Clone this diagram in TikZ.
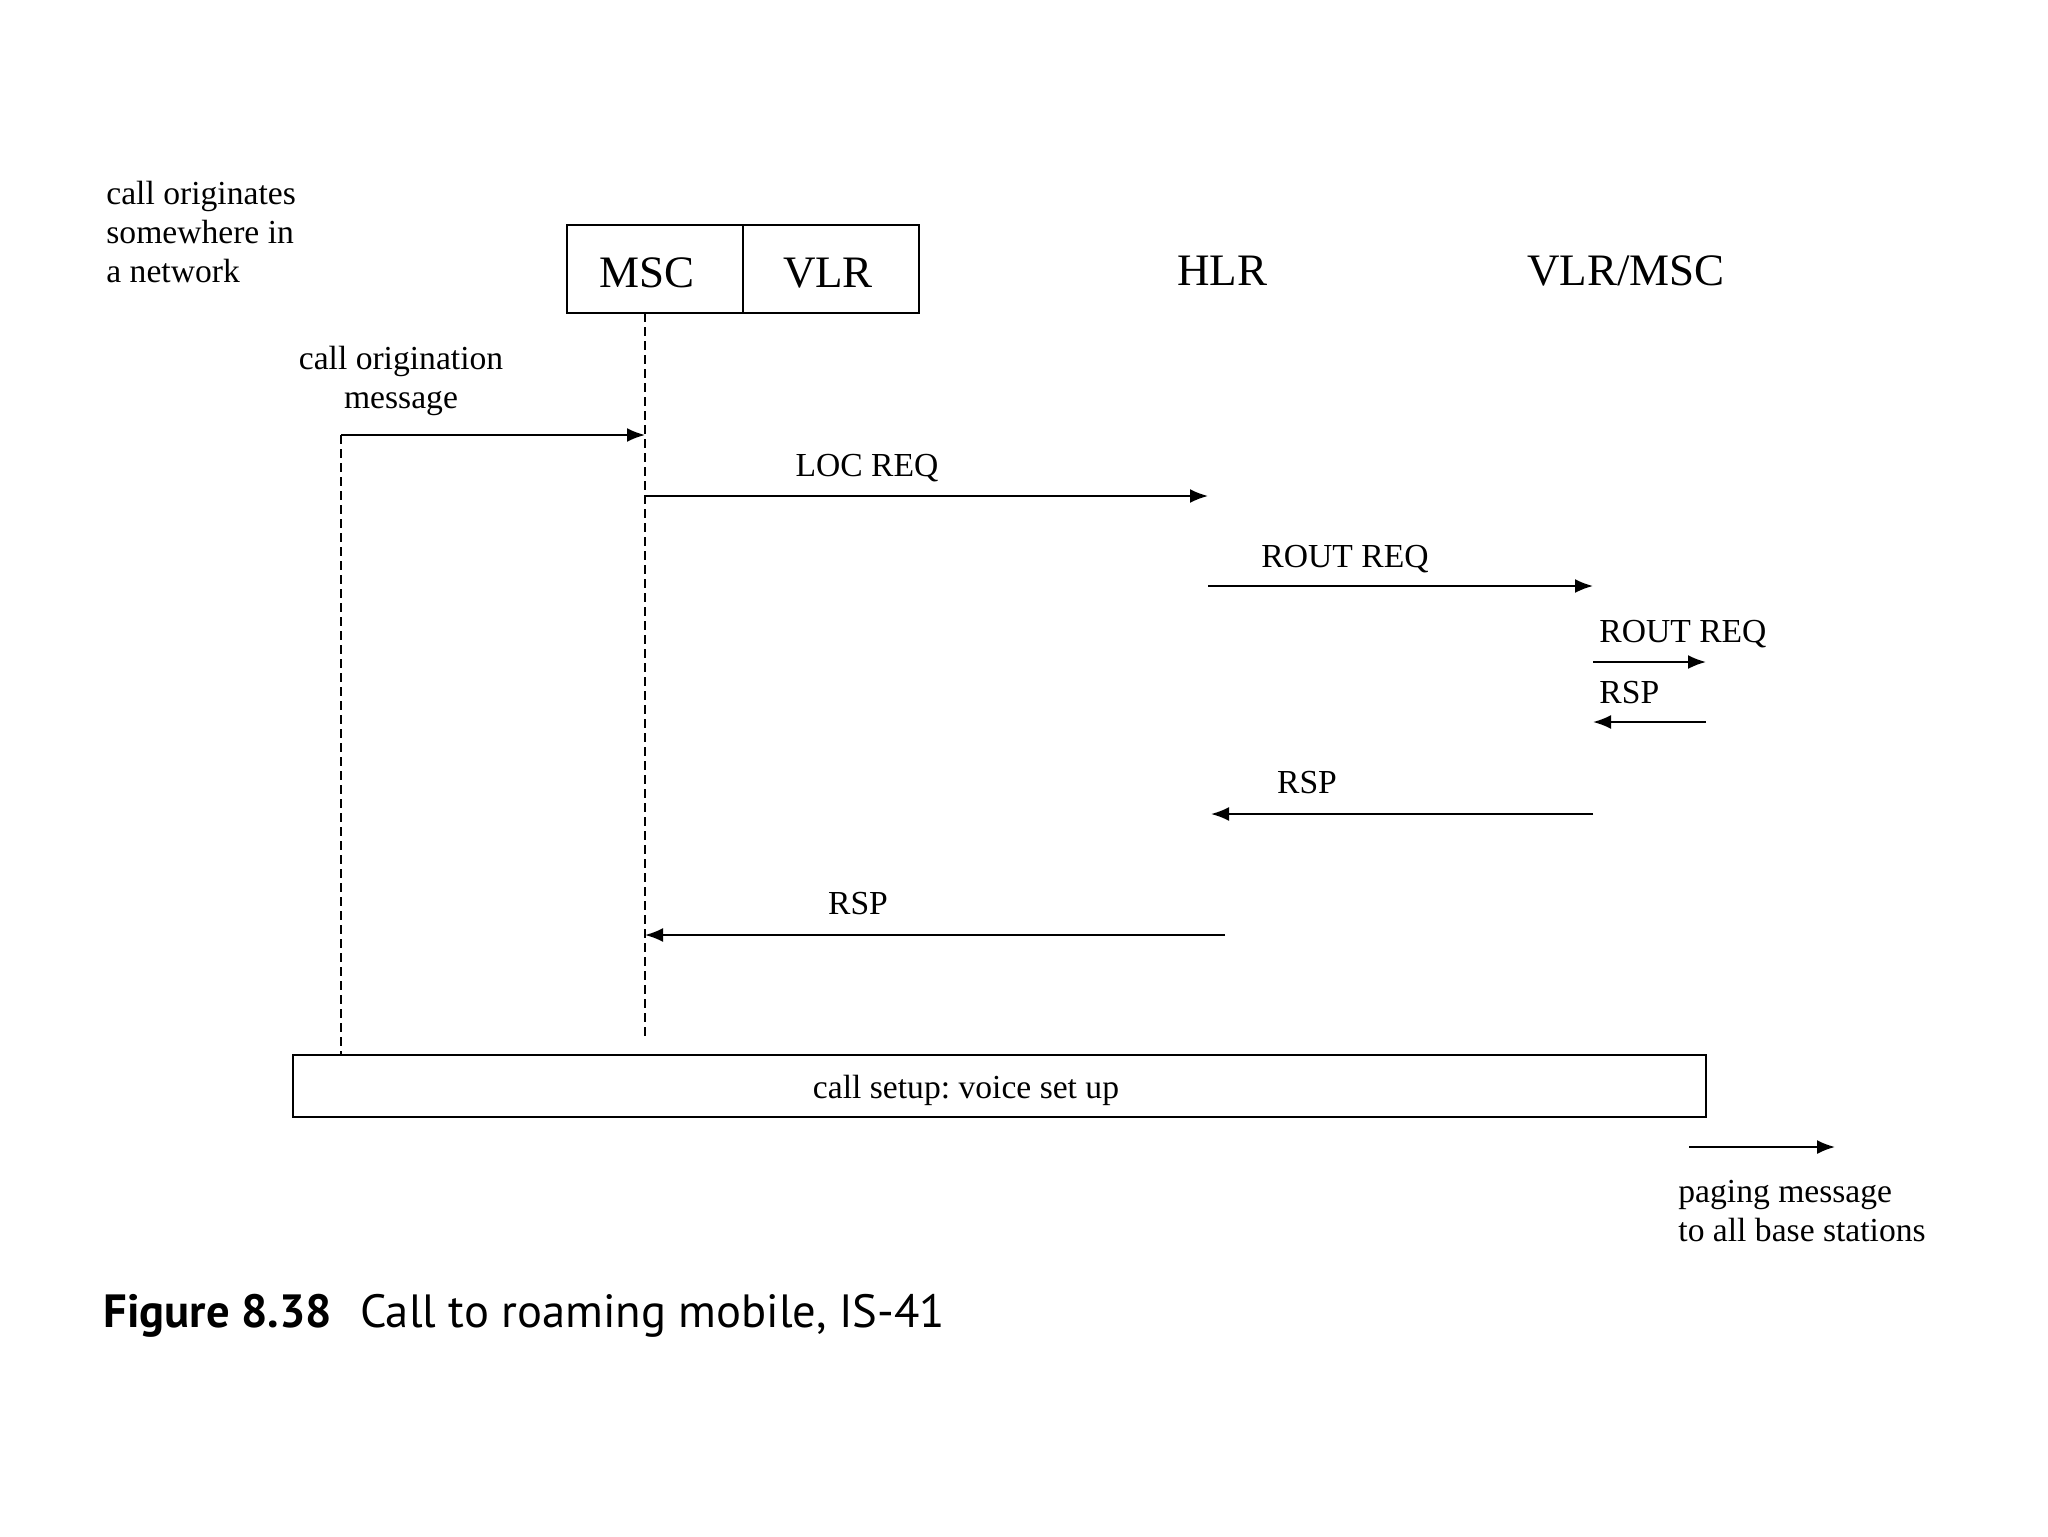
\documentclass[tikz,border=0pt]{standalone}
\usepackage{fontspec}
\setmainfont{Liberation Serif}
\newfontfamily\capfont{PT Sans}
\usetikzlibrary{arrows.meta}
\frenchspacing
\begin{document}
\begin{tikzpicture}[x=0.5pt,y=-0.5pt,
  lbl/.style={inner sep=0pt, font=\fontsize{16.8}{19.5}\selectfont},
  hdr/.style={inner sep=0pt, font=\fontsize{22.5}{27}\selectfont},
  ent/.style={draw, line width=0.8pt, minimum width=88pt, minimum height=44pt, inner sep=0pt},
  msg/.style={line width=1pt, -{Latex[length=9pt,width=7pt]}},
  life/.style={line width=0.7pt, dash pattern=on 4.5pt off 2.5pt}]
\useasboundingbox (0,0) rectangle (2048,1536);
% headers
\node[lbl, anchor=west, align=left] (orig) at (106,232) {call originates\\somewhere in\\a network};
\node[ent] (msc) at (655,269) {};
\node[ent] (vlr) at (831,269) {};
\node[hdr] (msctext) at (647,273) {MSC};
\node[hdr] (vlrtext) at (828,273) {VLR};
\node[hdr] (hlr) at (1222,271) {HLR};
\node[hdr] (vm) at (1626,271) {VLR/MSC};
% lifelines
\coordinate (msctop) at (645,313);
\coordinate (mscbot) at (645,1036);
\coordinate (orgtop) at (341,435);
\node[draw, line width=0.8pt, minimum width=706.5pt, minimum height=31pt, inner sep=0pt] (setup) at (999.5,1086) {};
\node[lbl] (setuptext) at (966,1090) {call setup: voice set up};
\draw[life] (msctop) -- (mscbot);
\draw[life] (orgtop) -- (orgtop |- setup.north);
% call origination
\node[lbl, align=center] (origmsg) at (401,381) {call origination\\message};
\coordinate (origend) at (645,435);
\draw[msg] (orgtop) -- (origend);
% LOC REQ
\node[lbl] (locreq) at (867,468) {LOC REQ};
\coordinate (loc1) at (645,496);
\coordinate (loc2) at (1208,496);
\draw[msg] (loc1) -- (loc2);
% ROUT REQ
\node[lbl] (routreq) at (1345,559) {ROUT REQ};
\coordinate (rr1) at (1208,586);
\coordinate (rr2) at (1593,586);
\draw[msg] (rr1) -- (rr2);
% ROUT REQ small
\node[lbl, anchor=west] (routreq2) at (1599,634) {ROUT REQ};
\coordinate (rs1) at (1593,662);
\coordinate (rs2) at (1706,662);
\draw[msg] (rs1) -- (rs2);
\node[lbl, anchor=west] (rsp1) at (1599,693) {RSP};
\coordinate (rp1) at (1706,722);
\coordinate (rp2) at (1593,722);
\draw[msg] (rp1) -- (rp2);
% RSP to HLR
\node[lbl] (rsp2) at (1307,783) {RSP};
\coordinate (rq1) at (1593,814);
\coordinate (rq2) at (1211,814);
\draw[msg] (rq1) -- (rq2);
% RSP to MSC
\node[lbl] (rsp3) at (858,904) {RSP};
\coordinate (rm1) at (1225,935);
\coordinate (rm2) at (645,935);
\draw[msg] (rm1) -- (rm2);
% paging
\coordinate (pg1) at (1689,1147);
\coordinate (pg2) at (1835,1147);
\draw[msg] (pg1) -- (pg2);
\node[lbl, anchor=west, align=left] (paging) at (1678,1211) {paging message\\to all base stations};
% caption
\node[inner sep=0pt, anchor=west, font=\capfont\fontsize{23.3}{28}\selectfont] (caption) at (103,1316) {\textbf{Figure 8.38}\hspace{0.6em}Call to roaming mobile, IS-41};
\end{tikzpicture}
\end{document}
